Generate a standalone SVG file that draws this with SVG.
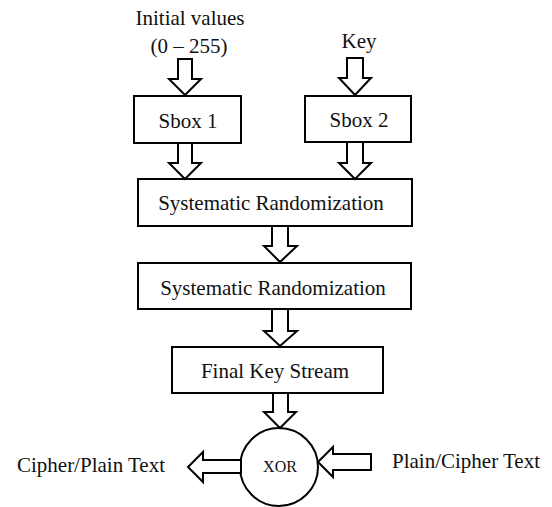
<svg xmlns="http://www.w3.org/2000/svg" width="552" height="507" viewBox="0 0 552 507">
  <style>
    .box { fill: #ffffff; stroke: #000000; stroke-width: 2; }
    .arrow { fill: #ffffff; stroke: #000000; stroke-width: 2; stroke-linejoin: miter; }
    .lbl { font-family: "Liberation Serif", "Times New Roman", serif; font-size: 21px; fill: #111111; text-anchor: middle; }
    .small { font-size: 16px; }
  </style>
  <rect width="552" height="507" fill="#ffffff"/>

  <!-- inputs -->
  <g id="input-initial">
    <text class="lbl" x="190" y="25">Initial values</text>
    <text class="lbl" x="189" y="53">(0 – 255)</text>
  </g>
  <g id="input-key">
    <text class="lbl" x="359" y="48">Key</text>
  </g>

  <!-- processing blocks -->
  <g id="sbox1">
    <rect class="box" x="134" y="96" width="107" height="47"/>
    <text class="lbl" x="188" y="128">Sbox 1</text>
  </g>
  <g id="sbox2">
    <rect class="box" x="305" y="96" width="106" height="46"/>
    <text class="lbl" x="359" y="127">Sbox 2</text>
  </g>
  <g id="randomization1">
    <rect class="box" x="138" y="179" width="274" height="47"/>
    <text class="lbl" x="271" y="210">Systematic Randomization</text>
  </g>
  <g id="randomization2">
    <rect class="box" x="138" y="263" width="273" height="46"/>
    <text class="lbl" x="273" y="295">Systematic Randomization</text>
  </g>
  <g id="final-key-stream">
    <rect class="box" x="172" y="347" width="211" height="46"/>
    <text class="lbl" x="275" y="378">Final Key Stream</text>
  </g>
  <g id="xor">
    <circle class="box" cx="279" cy="467" r="39"/>
    <text class="lbl small" x="280" y="472">XOR</text>
  </g>
  <g id="output-text">
    <text class="lbl" x="91" y="472">Cipher/Plain Text</text>
  </g>
  <g id="input-text">
    <text class="lbl" x="466" y="468">Plain/Cipher Text</text>
  </g>

  <!-- block arrows -->
  <g id="connectors">
    <polygon class="arrow" points="178,59 192,59 192,79 201,79 185,95 169,79 178,79"/>
    <polygon class="arrow" points="347,58 363,58 363,78 371,78 355,95 339,78 347,78"/>
    <polygon class="arrow" points="178,143 192,143 192,163 201,163 185,179 169,163 178,163"/>
    <polygon class="arrow" points="347,142 363,142 363,163 371,163 355,179 339,163 347,163"/>
    <polygon class="arrow" points="272,226 288,226 288,246 297,246 280,262 264,246 272,246"/>
    <polygon class="arrow" points="272,309 288,309 288,331 297,331 280,346 264,331 272,331"/>
    <polygon class="arrow" points="273,393 288,393 288,412 296,412 280,428 264,412 273,412"/>
    <!-- XOR output, pointing left -->
    <polygon class="arrow" points="241,460 203,460 203,452 188,467 203,482 203,473 241,473"/>
    <!-- plaintext input, pointing into XOR -->
    <polygon class="arrow" points="371,454 333,454 333,447 318,462 333,477 333,470 371,470"/>
  </g>
</svg>
